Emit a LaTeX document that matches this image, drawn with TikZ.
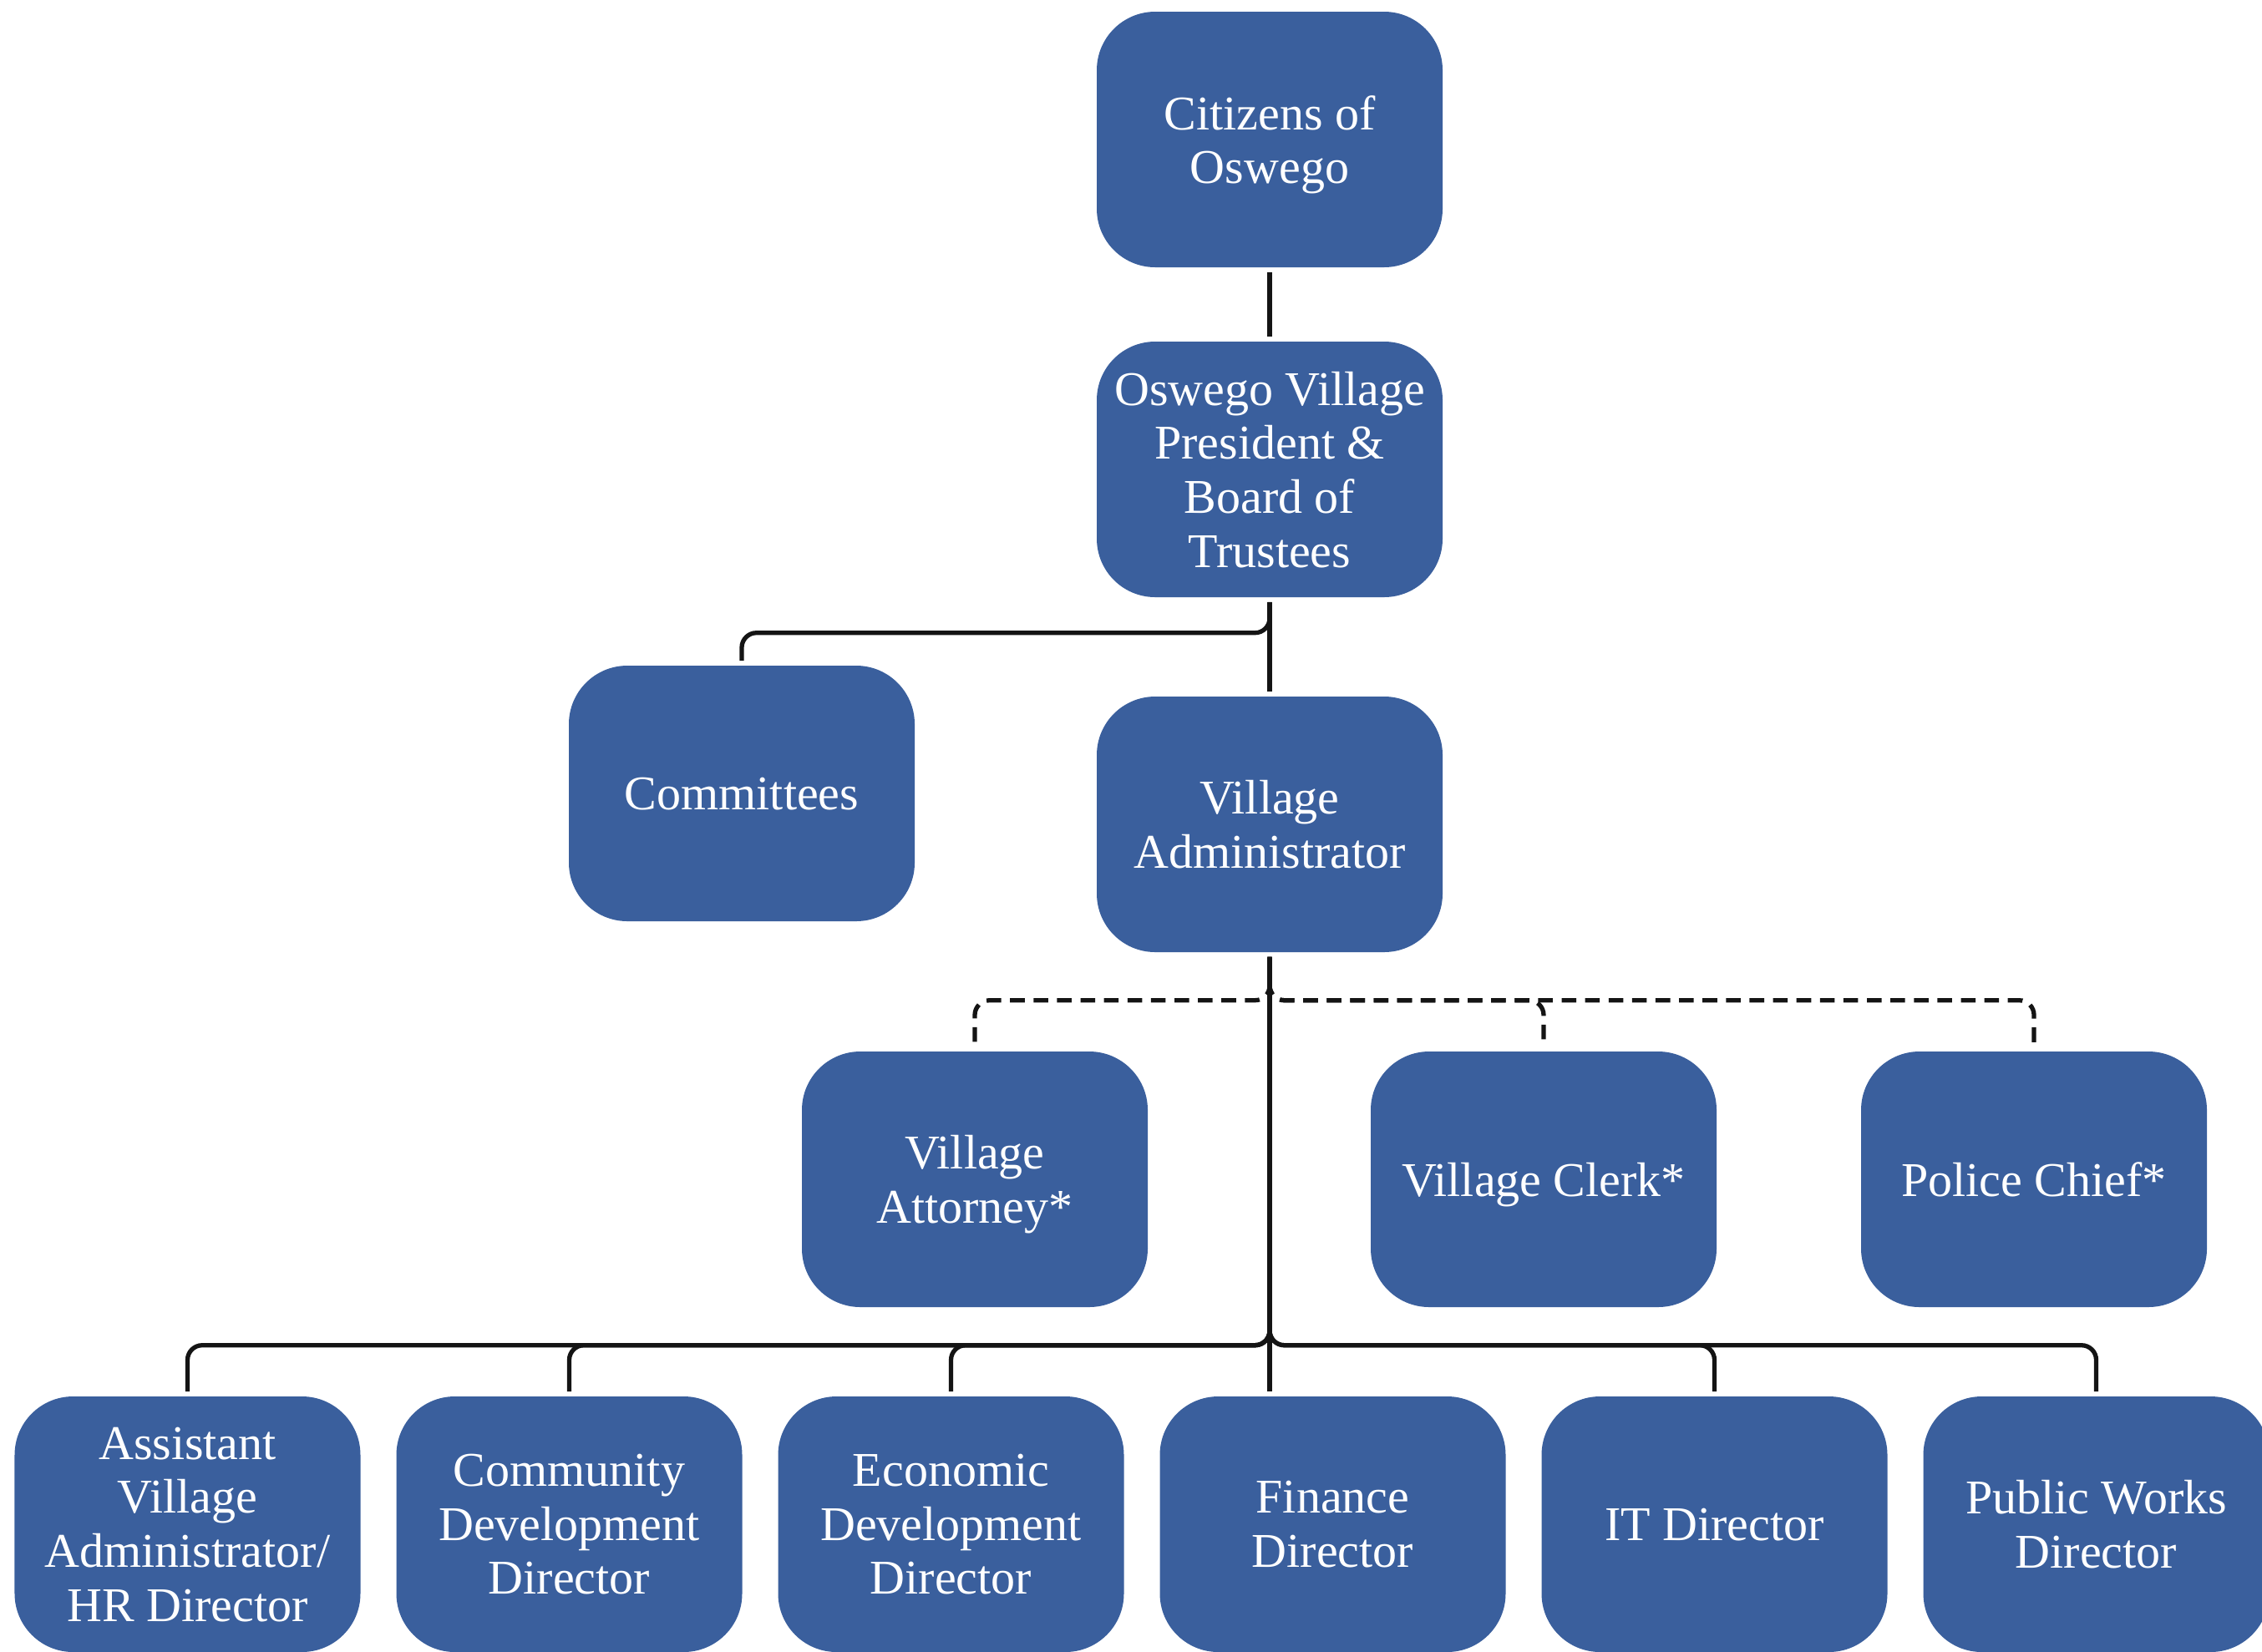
\documentclass[tikz,border=0pt]{standalone}
\usepackage{fontspec}
\setmainfont{Liberation Serif}
\usepackage{xcolor}

\definecolor{unitblue}{HTML}{3A5F9D}

\tikzset{
	unit/.style={fill=unitblue, rounded corners=0.7cm, minimum width=4.14cm, minimum height=3.06cm,
		inner sep=0pt, text depth=0pt, align=center, text=white, font=\fontsize{16.5}{18.4}\selectfont},
	link/.style={line width=1.5pt, black!92, rounded corners=5pt, shorten <=1.5pt, shorten >=1.5pt},
	dashlink/.style={link, dash pattern=on 5pt off 3pt},
}

\begin{document}
\begin{tikzpicture}
		\def\top{-18.25};
		\def\mid{-14.12};
		\def\gap{4.57};
		
		\useasboundingbox (0,0) rectangle (27.08,-19.77);
		
		\node [unit] (citizens) at (15.20,-1.67) {Citizens of\\Oswego};
		\node [unit] (board) at (15.20,-5.62) {Oswego Village\\President \&\\Board of\\Trustees};
		\node [unit] (committees) at (8.88,-9.50) {Committees};
		\node [unit] (admin) at (15.20,-9.87) {Village\\Administrator};
		
		\node [unit] (attorney) at (11.67,\mid) {Village\\Attorney*};
		\node [unit] (clerk) at (18.48,\mid) {Village Clerk*};
		\node [unit] (police) at (24.35,\mid) {Police Chief*};
		
		\node [unit] (assistant) at (2.245,\top) {Assistant\\Village\\Administrator/\\HR Director};
		\node [unit] (community) at ({2.245 + \gap},\top) {Community\\Development\\Director};
		\node [unit] (economic) at ({2.245 + 2*\gap},\top) {Economic\\Development\\Director};
		\node [unit] (finance) at ({2.245 + 3*\gap},\top) {Finance\\Director};
		\node [unit] (it) at ({2.245 + 4*\gap},\top) {IT Director};
		\node [unit] (works) at ({2.245 + 5*\gap},\top) {Public Works\\Director};
		
		% council level
		\draw [link] (citizens) -- (board);
		\draw [link] (board) -- (admin);
		\draw [link] (board.south) -- ++(0,-0.42) -| (committees.north);
		
		% appointed, dashed
		\path (admin.south) ++(0,-0.57) coordinate (dbus);
		\draw [dashlink] (admin.south) -- (dbus) -| (attorney.north);
		\draw [dashlink] (admin.south) -- (dbus) -| (clerk.north);
		\draw [dashlink] (admin.south) -- (dbus) -| (police.north);
		
		% directors
		\path (admin.south) ++(0,-4.70) coordinate (bus);
		\draw [link] (admin.south) -- (admin.south |- finance.north);
			\draw [link] (admin.south) -- (bus) -| (assistant.north);
			\draw [link] (admin.south) -- (bus) -| (community.north);
			\draw [link] (admin.south) -- (bus) -| (economic.north);
			\draw [link] (admin.south) -- (bus) -| (it.north);
			\draw [link] (admin.south) -- (bus) -| (works.north);
	\end{tikzpicture}
\end{document}
